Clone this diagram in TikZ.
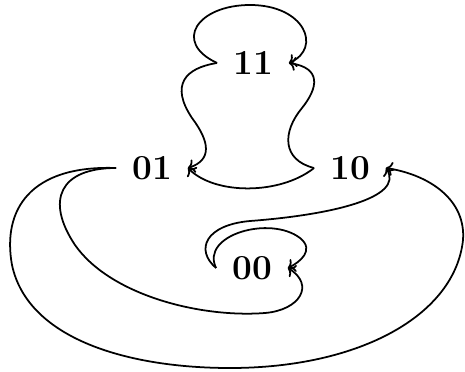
\documentclass[tikz,border=0pt]{standalone}
\usepackage{fontspec}
\usepackage{tikz}
\usetikzlibrary{arrows.meta}

\begin{document}
\begin{tikzpicture}[x=0.02cm, y=-0.02cm,
  state/.style={inner xsep=9pt, inner ysep=2pt, font=\fontsize{20pt}{24pt}\selectfont\bfseries},
  trans/.style={->, line width=1pt}]
\useasboundingbox (0,0) rectangle (465,371);

% States
\node[state] (s11) at (253,63) {11};
\node[state] (s01) at (152,168) {01};
\node[state] (s10) at (350,168) {10};
\node[state] (s00) at (252,268) {00};

% Self loops
\draw[trans] (s11.west) .. controls (172,42) and (198,5) .. (250,5) .. controls (305,5) and (322,48) .. (s11.east);
\draw[trans] (s00.west) .. controls (200,235) and (270,215) .. (300,238) .. controls (315,250) and (300,262) .. (s00.east);

% Around 11
\draw[trans] (s11.west) .. controls (185,68) and (170,85) .. (192,118) .. controls (210,142) and (212,160) .. (s01.east);
\draw[trans] (s10.west) .. controls (282,160) and (282,132) .. (302,108) .. controls (318,88) and (322,68) .. (s11.east);
\draw[trans] (s10.west) .. controls (280,195) and (215,195) .. (s01.east);

% Outer transitions
\draw[trans] (s01.west) .. controls (30,165) and (2,210) .. (12,265) .. controls (28,340) and (130,368) .. (230,368)
  .. controls (360,368) and (455,315) .. (463,240) .. controls (466,200) and (430,175) .. (s10.east);
\draw[trans] (s01.west) .. controls (60,168) and (45,200) .. (75,245) .. controls (110,295) and (200,318) .. (265,313)
  .. controls (300,310) and (315,285) .. (s00.east);
\draw[trans] (s00.west) .. controls (195,250) and (205,225) .. (250,221) .. controls (330,215) and (405,198) .. (s10.east);

\end{tikzpicture}
\end{document}
